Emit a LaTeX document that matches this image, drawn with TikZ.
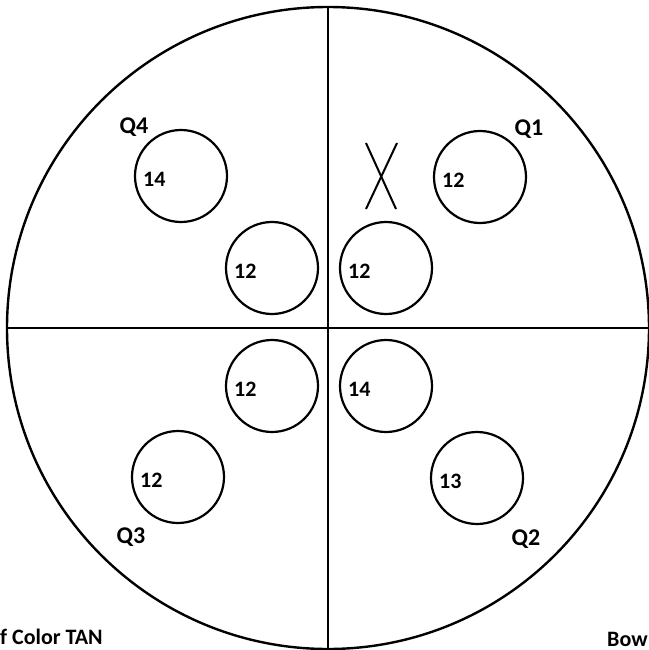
\documentclass[tikz,border=0pt]{standalone}
\usepackage{fontspec}
\setmainfont{Carlito}
\usetikzlibrary{positioning}

\begin{document}
\begin{tikzpicture}[
    x=1pt, y=-1pt,
    dish/.style={circle, draw, line width=2.4pt, minimum size=642pt, inner sep=0pt},
    pan/.style={circle, draw, line width=2.2pt, minimum size=92pt, inner sep=0pt},
    num/.style={font=\bfseries\fontsize{22}{24}\selectfont, inner sep=0pt, anchor=west},
    quad/.style={font=\bfseries\fontsize{24}{26}\selectfont, inner sep=0pt},
    note/.style={font=\bfseries\fontsize{22}{24}\selectfont, inner sep=0pt},
    axis/.style={line width=2pt}
  ]
  \useasboundingbox (0,0) rectangle (648,650);

  % outer dish and quadrant lines
  \node[dish] (dish) at (328,328) {};
  \draw[axis] (dish.north) -- (dish.south);
  \draw[axis] (dish.west) -- (dish.east);

  % pans
  \node[pan] (q4pan) at (181,176) {};
  \node[pan] (ulpan) at (272,268) {};
  \node[pan] (q1pan) at (480,177) {};
  \node[pan] (urpan) at (386,268) {};
  \node[pan] (llpan) at (272,386) {};
  \node[pan] (lrpan) at (386,386) {};
  \node[pan] (q3pan) at (178,477) {};
  \node[pan] (q2pan) at (477,478) {};

  \node[num] at ([xshift=9pt, yshift=-3pt]q4pan.west) {14};
  \node[num] at ([xshift=9pt, yshift=-3pt]ulpan.west) {12};
  \node[num] at ([xshift=9pt, yshift=-3pt]q1pan.west) {12};
  \node[num] at ([xshift=9pt, yshift=-3pt]urpan.west) {12};
  \node[num] at ([xshift=9pt, yshift=-3pt]llpan.west) {12};
  \node[num] at ([xshift=9pt, yshift=-3pt]lrpan.west) {14};
  \node[num] at ([xshift=9pt, yshift=-3pt]q3pan.west) {12};
  \node[num] at ([xshift=9pt, yshift=-3pt]q2pan.west) {13};

  % quadrant names
  \node[quad] (q4) at (134,127) {Q4};
  \node[quad] (q1) at (529,129) {Q1};
  \node[quad] (q3) at (131,537) {Q3};
  \node[quad] (q2) at (526,539) {Q2};

  % crossed-out spot
  \draw[axis] (366,209) -- (397,143);
  \draw[axis] (366,143) -- (396,209);

  % cut-off captions
  \node[note, anchor=base] (title) at (552,-4) {g};
  \node[note, anchor=west] (left) at (0,637) {f Color TAN};
  \node[note, anchor=west] (right) at (607,639) {Bow};
\end{tikzpicture}
\end{document}
